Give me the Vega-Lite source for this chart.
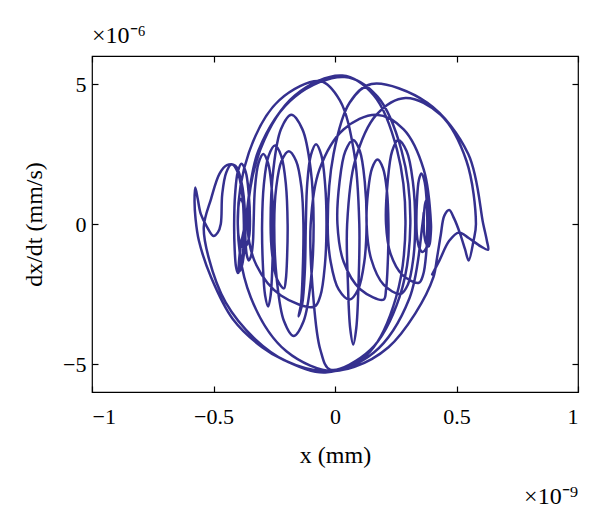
{
  "$schema": "https://vega.github.io/schema/vega-lite/v6.json",
  "width": 486,
  "height": 336,
  "autosize": {"type": "none"},
  "padding": {"left": 92, "top": 56, "right": 22, "bottom": 117},
  "background": "white",
  "config": {
    "view": {"stroke": "black", "strokeWidth": 1.2},
    "font": "Liberation Serif",
    "axis": {"grid": false, "domain": false, "tickColor": "black", "tickSize": -6, "tickWidth": 1.2, "labelFont": "Liberation Serif", "labelFontSize": 22, "labelColor": "black", "titleFont": "Liberation Serif", "titleFontSize": 24, "titleFontWeight": "normal", "titleColor": "black"}
  },
  "title": {"text": "×10⁻⁶", "anchor": "start", "frame": "group", "offset": 7, "fontSize": 24, "font": "Liberation Serif", "fontWeight": "normal", "color": "black"},
  "layer": [
    {
      "data": {"values": [
        {"i":1,"x":0.365,"y":0.4},{"i":2,"x":0.36,"y":0},{"i":3,"x":0.3064,"y":-2.65},{"i":4,"x":0.16,"y":-4.59},{"i":5,"x":-0.04,"y":-5.3},{"i":6,"x":-0.21,"y":-4.86},{"i":7,"x":-0.3,"y":-4.4},{"i":8,"x":-0.42,"y":-3.4},{"i":9,"x":-0.51,"y":-1.9},{"i":10,"x":-0.56,"y":-0.6},
        {"i":11,"x":-0.574,"y":0.2},{"i":12,"x":-0.578,"y":0.8},{"i":13,"x":-0.575,"y":1.3},{"i":14,"x":-0.565,"y":0.9},{"i":15,"x":-0.552,"y":0.35},{"i":16,"x":-0.527,"y":-0.1},{"i":17,"x":-0.5,"y":-0.43},{"i":18,"x":-0.482,"y":-0.3},
        {"i":19,"x":-0.47,"y":0},{"i":20,"x":-0.464,"y":1.07},{"i":21,"x":-0.4475,"y":1.84},{"i":22,"x":-0.425,"y":2.13},{"i":23,"x":-0.4,"y":1.84},{"i":24,"x":-0.382,"y":1.07},{"i":25,"x":-0.375,"y":0},
        {"i":26,"x":-0.378,"y":-0.875},{"i":27,"x":-0.3875,"y":-1.52},{"i":28,"x":-0.4,"y":-1.75},{"i":29,"x":-0.4075,"y":-1.52},{"i":30,"x":-0.413,"y":-0.875},
        {"i":31,"x":-0.415,"y":0},{"i":32,"x":-0.411,"y":1.075},{"i":33,"x":-0.4,"y":1.86},{"i":34,"x":-0.385,"y":2.15},{"i":35,"x":-0.3675,"y":1.86},{"i":36,"x":-0.355,"y":1.075},{"i":37,"x":-0.35,"y":0},
        {"i":38,"x":-0.353,"y":-0.425},{"i":39,"x":-0.3625,"y":-0.74},{"i":40,"x":-0.375,"y":-0.85},{"i":41,"x":-0.3875,"y":-0.74},{"i":42,"x":-0.397,"y":-0.425},
        {"i":43,"x":-0.4,"y":0},{"i":44,"x":-0.399,"y":0.45},{"i":45,"x":-0.395,"y":0.78},{"i":46,"x":-0.39,"y":0.9},{"i":47,"x":-0.38,"y":0.78},{"i":48,"x":-0.373,"y":0.45},{"i":49,"x":-0.37,"y":0},
        {"i":50,"x":-0.368,"y":-0.65},{"i":51,"x":-0.3625,"y":-1.13},{"i":52,"x":-0.355,"y":-1.3},{"i":53,"x":-0.345,"y":-1.13},{"i":54,"x":-0.3377,"y":-0.65},
        {"i":55,"x":-0.335,"y":0},{"i":56,"x":-0.3296,"y":1.25},{"i":57,"x":-0.315,"y":2.165},{"i":58,"x":-0.295,"y":2.5},{"i":59,"x":-0.275,"y":2.165},{"i":60,"x":-0.2604,"y":1.25},{"i":61,"x":-0.255,"y":0},
        {"i":62,"x":-0.2577,"y":-1.475},{"i":63,"x":-0.265,"y":-2.555},{"i":64,"x":-0.275,"y":-2.95},{"i":65,"x":-0.2875,"y":-2.555},{"i":66,"x":-0.2967,"y":-1.475},
        {"i":67,"x":-0.3,"y":0},{"i":68,"x":-0.2929,"y":1.4},{"i":69,"x":-0.2735,"y":2.425},{"i":70,"x":-0.247,"y":2.8},{"i":71,"x":-0.221,"y":2.425},{"i":72,"x":-0.202,"y":1.4},{"i":73,"x":-0.195,"y":0},
        {"i":74,"x":-0.197,"y":-1.15},{"i":75,"x":-0.2025,"y":-1.992},{"i":76,"x":-0.21,"y":-2.3},{"i":77,"x":-0.2375,"y":-1.992},{"i":78,"x":-0.2576,"y":-1.15},
        {"i":79,"x":-0.265,"y":0},{"i":80,"x":-0.2536,"y":1.95},{"i":81,"x":-0.2225,"y":3.38},{"i":82,"x":-0.18,"y":3.9},{"i":83,"x":-0.134,"y":3.38},{"i":84,"x":-0.1,"y":1.95},{"i":85,"x":-0.088,"y":0},
        {"i":86,"x":-0.099,"y":-2.0},{"i":87,"x":-0.129,"y":-3.464},{"i":88,"x":-0.17,"y":-4.0},{"i":89,"x":-0.21,"y":-3.464},{"i":90,"x":-0.2393,"y":-2.0},
        {"i":91,"x":-0.25,"y":0},{"i":92,"x":-0.242,"y":1.3},{"i":93,"x":-0.22,"y":2.252},{"i":94,"x":-0.19,"y":2.6},{"i":95,"x":-0.16,"y":2.252},{"i":96,"x":-0.138,"y":1.3},{"i":97,"x":-0.13,"y":0},
        {"i":98,"x":-0.1327,"y":-1.65},{"i":99,"x":-0.14,"y":-2.858},{"i":100,"x":-0.15,"y":-3.3},{"i":101,"x":-0.135,"y":-2.858},{"i":102,"x":-0.124,"y":-1.65},
        {"i":103,"x":-0.12,"y":0},{"i":104,"x":-0.1144,"y":1.425},{"i":105,"x":-0.099,"y":2.468},{"i":106,"x":-0.078,"y":2.85},{"i":107,"x":-0.0565,"y":2.468},{"i":108,"x":-0.0408,"y":1.425},{"i":109,"x":-0.035,"y":0},
        {"i":110,"x":-0.0417,"y":-1.475},{"i":111,"x":-0.06,"y":-2.555},{"i":112,"x":-0.085,"y":-2.95},{"i":113,"x":-0.2225,"y":-2.555},{"i":114,"x":-0.3232,"y":-1.475},
        {"i":115,"x":-0.36,"y":0},{"i":116,"x":-0.3077,"y":2.65},{"i":117,"x":-0.165,"y":4.59},{"i":118,"x":0.03,"y":5.3},{"i":119,"x":0.16,"y":4.59},{"i":120,"x":0.2552,"y":2.65},{"i":121,"x":0.29,"y":0},
        {"i":122,"x":0.2511,"y":-2.625},{"i":123,"x":0.145,"y":-4.547},{"i":124,"x":0,"y":-5.25},{"i":125,"x":-0.2,"y":-4.547},{"i":126,"x":-0.3464,"y":-2.625},
        {"i":127,"x":-0.4,"y":0},{"i":128,"x":-0.3544,"y":2.55},{"i":129,"x":-0.23,"y":4.417},{"i":130,"x":-0.06,"y":5.1},{"i":131,"x":0.02,"y":4.417},{"i":132,"x":0.0786,"y":2.55},{"i":133,"x":0.1,"y":0},
        {"i":134,"x":0.0967,"y":-2.15},{"i":135,"x":0.0875,"y":-3.724},{"i":136,"x":0.075,"y":-4.3},{"i":137,"x":0.0625,"y":-3.724},{"i":138,"x":0.0533,"y":-2.15},
        {"i":139,"x":0.05,"y":0},{"i":140,"x":0.0822,"y":2.25},{"i":141,"x":0.17,"y":3.897},{"i":142,"x":0.29,"y":4.5},{"i":143,"x":0.435,"y":3.897},{"i":144,"x":0.5411,"y":2.25},{"i":145,"x":0.58,"y":0},
        {"i":146,"x":0.57,"y":-0.6},{"i":147,"x":0.55,"y":-1.3},{"i":148,"x":0.535,"y":-0.9},{"i":149,"x":0.515,"y":-0.35},{"i":150,"x":0.49,"y":0.2},{"i":151,"x":0.47,"y":0.5},{"i":152,"x":0.45,"y":0.3},{"i":153,"x":0.435,"y":-0.4},{"i":154,"x":0.42,"y":-1.2},{"i":155,"x":0.405,"y":-1.9},
        {"i":156,"x":0.33,"y":-3.2},{"i":157,"x":0.22,"y":-4.4},{"i":158,"x":0.08,"y":-5.1},{"i":159,"x":-0.05,"y":-5.25},{"i":160,"x":-0.2,"y":-4.9},{"i":161,"x":-0.33,"y":-4.1},{"i":162,"x":-0.45,"y":-2.8},{"i":163,"x":-0.52,"y":-1.2},{"i":164,"x":-0.54,"y":-0.1},
        {"i":165,"x":-0.51,"y":0.9},{"i":166,"x":-0.475,"y":1.8},{"i":167,"x":-0.445,"y":2.1},{"i":168,"x":-0.41,"y":2.08},{"i":169,"x":-0.385,"y":1.5},{"i":170,"x":-0.37,"y":0.3},{"i":171,"x":-0.372,"y":-0.8},{"i":172,"x":-0.385,"y":-1.55},{"i":173,"x":-0.395,"y":-1.7},{"i":174,"x":-0.39,"y":-0.9},
        {"i":175,"x":-0.37,"y":0},{"i":176,"x":-0.315,"y":2.625},{"i":177,"x":-0.165,"y":4.547},{"i":178,"x":0.04,"y":5.25},{"i":179,"x":0.175,"y":4.547},{"i":180,"x":0.2738,"y":2.625},{"i":181,"x":0.31,"y":0},
        {"i":182,"x":0.2658,"y":-2.6},{"i":183,"x":0.145,"y":-4.5},{"i":184,"x":-0.02,"y":-5.2},{"i":185,"x":-0.06,"y":-4.5},{"i":186,"x":-0.0893,"y":-2.6},
        {"i":187,"x":-0.1,"y":0},{"i":188,"x":-0.0638,"y":1.95},{"i":189,"x":0.035,"y":3.377},{"i":190,"x":0.17,"y":3.9},{"i":191,"x":0.2825,"y":3.377},{"i":192,"x":0.3649,"y":1.95},{"i":193,"x":0.395,"y":0},
        {"i":194,"x":0.3937,"y":-0.4},{"i":195,"x":0.39,"y":-0.693},{"i":196,"x":0.385,"y":-0.8},{"i":197,"x":0.375,"y":-0.693},{"i":198,"x":0.3677,"y":-0.4},
        {"i":199,"x":0.365,"y":0},{"i":200,"x":0.367,"y":0.45},{"i":201,"x":0.3725,"y":0.779},{"i":202,"x":0.38,"y":0.9},{"i":203,"x":0.385,"y":0.779},{"i":204,"x":0.3887,"y":0.45},{"i":205,"x":0.39,"y":0},
        {"i":206,"x":0.386,"y":-0.5},{"i":207,"x":0.375,"y":-0.866},{"i":208,"x":0.36,"y":-1.0},{"i":209,"x":0.3475,"y":-0.866},{"i":210,"x":0.3383,"y":-0.5},
        {"i":211,"x":0.335,"y":0},{"i":212,"x":0.3377,"y":0.9},{"i":213,"x":0.345,"y":1.559},{"i":214,"x":0.355,"y":1.8},{"i":215,"x":0.3675,"y":1.559},{"i":216,"x":0.3767,"y":0.9},{"i":217,"x":0.38,"y":0},
        {"i":218,"x":0.3753,"y":-1.05},{"i":219,"x":0.3625,"y":-1.819},{"i":220,"x":0.345,"y":-2.1},{"i":221,"x":0.2775,"y":-1.819},{"i":222,"x":0.2281,"y":-1.05},
        {"i":223,"x":0.21,"y":0},{"i":224,"x":0.2167,"y":1.5},{"i":225,"x":0.235,"y":2.598},{"i":226,"x":0.26,"y":3.0},{"i":227,"x":0.295,"y":2.598},{"i":228,"x":0.3206,"y":1.5},{"i":229,"x":0.33,"y":0},
        {"i":230,"x":0.322,"y":-1.25},{"i":231,"x":0.3,"y":-2.165},{"i":232,"x":0.27,"y":-2.5},{"i":233,"x":0.2,"y":-2.165},{"i":234,"x":0.1488,"y":-1.25},
        {"i":235,"x":0.13,"y":0},{"i":236,"x":0.136,"y":1.15},{"i":237,"x":0.1525,"y":1.992},{"i":238,"x":0.175,"y":2.3},{"i":239,"x":0.1975,"y":1.992},{"i":240,"x":0.214,"y":1.15},{"i":241,"x":0.22,"y":0},
        {"i":242,"x":0.2173,"y":-1.35},{"i":243,"x":0.21,"y":-2.338},{"i":244,"x":0.2,"y":-2.7},{"i":245,"x":0.105,"y":-2.338},{"i":246,"x":0.0355,"y":-1.35},
        {"i":247,"x":0.01,"y":0},{"i":248,"x":0.0187,"y":1.5},{"i":249,"x":0.0425,"y":2.598},{"i":250,"x":0.075,"y":3.0},{"i":251,"x":0.1025,"y":2.598},{"i":252,"x":0.1226,"y":1.5},{"i":253,"x":0.13,"y":0},
        {"i":254,"x":0.1206,"y":-1.35},{"i":255,"x":0.095,"y":-2.338},{"i":256,"x":0.06,"y":-2.7},{"i":257,"x":0.015,"y":-2.338},{"i":258,"x":-0.0179,"y":-1.35},
        {"i":259,"x":-0.03,"y":0},{"i":260,"x":-0.0059,"y":2.5},{"i":261,"x":0.06,"y":4.33},{"i":262,"x":0.15,"y":5.0},{"i":263,"x":0.38,"y":4.33},{"i":264,"x":0.5484,"y":2.5},{"i":265,"x":0.61,"y":0},
        {"i":266,"x":0.625,"y":-0.6},{"i":267,"x":0.63,"y":-0.92},{"i":268,"x":0.6,"y":-0.8},{"i":269,"x":0.55,"y":-0.5},{"i":270,"x":0.51,"y":-0.3},{"i":271,"x":0.47,"y":-0.6},{"i":272,"x":0.43,"y":-1.3},{"i":273,"x":0.4,"y":-1.8}
      ]},
      "mark": {"type": "line", "interpolate": "catmull-rom", "color": "#35308f", "strokeWidth": 2.5, "strokeJoin": "round", "strokeCap": "round"},
      "encoding": {
        "x": {"field": "x", "type": "quantitative", "scale": {"domain": [-1, 1], "nice": false, "zero": false}, "axis": {"orient": "bottom", "values": [-1, -0.5, 0, 0.5, 1], "format": "~g", "labelPadding": 20, "title": "x (mm)", "titlePadding": 16}},
        "y": {"field": "y", "type": "quantitative", "scale": {"domain": [-6, 6], "nice": false, "zero": false}, "axis": {"orient": "left", "values": [-5, 0, 5], "format": "~g", "labelPadding": 12, "title": "dx/dt (mm/s)", "titlePadding": 16}},
        "order": {"field": "i", "type": "quantitative"}
      }
    },
    {
      "data": {"values": [{"t": "×10⁻⁹"}]},
      "mark": {"type": "text", "align": "right", "baseline": "middle", "dy": 105, "fontSize": 24, "font": "Liberation Serif", "color": "black"},
      "encoding": {
        "text": {"field": "t"},
        "x": {"datum": 1, "type": "quantitative", "axis": {"orient": "top", "values": [-1, -0.5, 0, 0.5, 1], "labels": false, "title": null}},
        "y": {"datum": -6, "type": "quantitative", "axis": {"orient": "right", "values": [-5, 0, 5], "labels": false, "title": null}}
      }
    }
  ],
  "resolve": {"axis": {"x": "independent", "y": "independent"}}
}
